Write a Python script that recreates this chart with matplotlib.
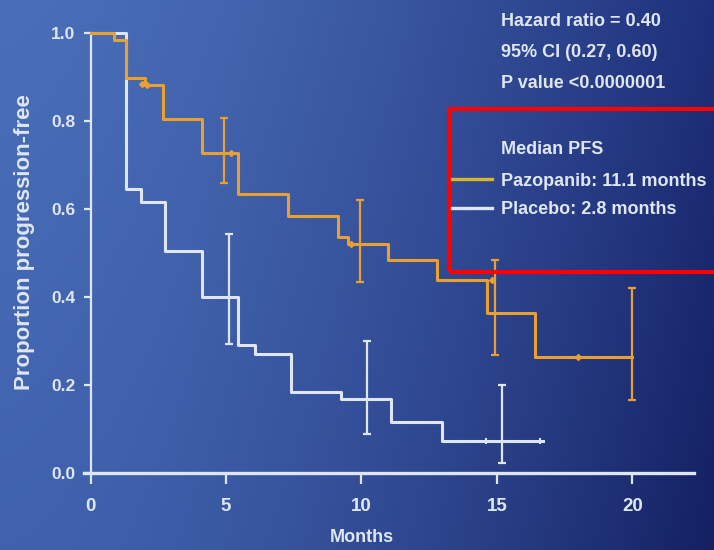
import numpy as np
import matplotlib
matplotlib.use("Agg")
import matplotlib.pyplot as plt
import matplotlib.ticker as ticker
from matplotlib.lines import Line2D
from matplotlib.patches import Rectangle

# Kaplan-Meier steps (months, proportion progression-free)
pazo_t = [0, 0.85, 1.3, 2.0, 2.66, 4.1, 5.45, 7.3, 9.13, 9.5, 10.99, 12.8, 14.62, 16.4, 20.0]
pazo_s = [1.0, 0.985, 0.898, 0.882, 0.804, 0.728, 0.634, 0.583, 0.536, 0.52, 0.484, 0.439, 0.363, 0.264, 0.264]
plac_t = [0, 1.3, 1.85, 2.75, 4.1, 5.45, 6.07, 7.4, 9.25, 11.08, 12.96, 16.7]
plac_s = [1.0, 0.645, 0.617, 0.505, 0.40, 0.29, 0.27, 0.185, 0.168, 0.117, 0.073, 0.073]

# 95% CI bars
pazo_ci_x = [4.93, 9.94, 14.93, 19.97]
pazo_ci_mid = [0.728, 0.52, 0.363, 0.264]
pazo_ci_lo = [0.659, 0.435, 0.268, 0.166]
pazo_ci_hi = [0.807, 0.62, 0.483, 0.42]
plac_ci_x = [5.1, 10.2, 15.17]
plac_ci_mid = [0.40, 0.168, 0.073]
plac_ci_lo = [0.293, 0.088, 0.023]
plac_ci_hi = [0.543, 0.30, 0.20]

# censor marks
pazo_cens_t = [1.9, 2.1, 5.2, 9.6, 14.8, 18.0]
pazo_cens_s = [0.885, 0.882, 0.728, 0.52, 0.439, 0.264]
plac_cens_t = [14.6, 16.6]
plac_cens_s = [0.073, 0.073]

x_ticks = [0, 5, 10, 15, 20]
y_ticks = [0.0, 0.2, 0.4, 0.6, 0.8, 1.0]

stats_lines = ["Hazard ratio = 0.40", "95% CI (0.27, 0.60)", "P value <0.0000001"]
legend_title = "Median PFS"
legend_labels = ["Pazopanib: 11.1 months", "Placebo: 2.8 months"]

ORANGE = "#e9a030"
LEG_YELLOW = "#d9b52a"
WHITE = "#dfe6f3"
FONT = ["Liberation Sans", "DejaVu Sans"]

W, H = 714, 550
fig = plt.figure(figsize=(W / 100, H / 100), dpi=100)


def px(x, y):
    """pixel (top-left origin) -> figure fraction"""
    return x / W, 1 - y / H


# background gradient
bg = fig.add_axes([0, 0, 1, 1])
u = np.linspace(0, 1, 300)[None, :]
v = np.linspace(0, 1, 230)[:, None]
uu = u ** 1.6
tl = np.array([74, 110, 184]); tr = np.array([30, 48, 122])
bl = np.array([64, 98, 174]); br = np.array([20, 32, 98])
img = ((1 - uu) * (1 - v))[..., None] * tl + (uu * (1 - v))[..., None] * tr \
    + ((1 - uu) * v)[..., None] * bl + (uu * v)[..., None] * br
bg.imshow(img / 255.0, aspect="auto", extent=[0, 1, 0, 1], interpolation="bilinear")
bg.set_axis_off()

x0, x1 = 84, 694
y_top, y_bot = 33, 473
ax = fig.add_axes([x0 / W, 1 - y_bot / H, (x1 - x0) / W, (y_bot - y_top) / H])
ax.patch.set_alpha(0)
ax.set_xlim(-0.24, 22.27)
ax.set_ylim(0, 1)

ax.step(plac_t, plac_s, where="post", color=WHITE, lw=2.2, clip_on=False, zorder=3)
ax.step(pazo_t, pazo_s, where="post", color=ORANGE, lw=2.2, clip_on=False, zorder=4)

ax.errorbar(pazo_ci_x, pazo_ci_mid,
            yerr=[np.subtract(pazo_ci_mid, pazo_ci_lo), np.subtract(pazo_ci_hi, pazo_ci_mid)],
            fmt="none", ecolor=ORANGE, elinewidth=1.6, capsize=3, capthick=1.6, zorder=4)
ax.errorbar(plac_ci_x, plac_ci_mid,
            yerr=[np.subtract(plac_ci_mid, plac_ci_lo), np.subtract(plac_ci_hi, plac_ci_mid)],
            fmt="none", ecolor=WHITE, elinewidth=1.6, capsize=3, capthick=1.6, zorder=3)
ax.plot(pazo_cens_t, pazo_cens_s, ls="none", marker="D", ms=3, color=ORANGE, zorder=5)
ax.plot(plac_cens_t, plac_cens_s, ls="none", marker="|", ms=5, mew=1.5, color=WHITE, zorder=5)

for side in ("top", "right"):
    ax.spines[side].set_visible(False)
ax.spines["left"].set_position(("data", 0))
ax.spines["left"].set_color(WHITE)
ax.spines["left"].set_linewidth(1.6)
ax.spines["bottom"].set_color(WHITE)
ax.spines["bottom"].set_linewidth(2.4)

ax.set_xticks(x_ticks)
ax.set_yticks(y_ticks)
ax.yaxis.set_major_formatter(ticker.FormatStrFormatter("%.1f"))
ax.tick_params(axis="y", colors=WHITE, length=5, width=1.6, pad=6, labelsize=12.5)
ax.tick_params(axis="x", colors=WHITE, length=8, width=1.6, pad=10, labelsize=13.5)
for lab in ax.get_xticklabels() + ax.get_yticklabels():
    lab.set_family(FONT)
    lab.set_fontweight("bold")

fig.text(*px(362, 538), "Months", color=WHITE, fontsize=13, fontweight="bold",
         family=FONT, ha="center", va="center")
fig.text(*px(25, 242), "Proportion progression-free", color=WHITE, fontsize=16,
         fontweight="bold", family=FONT, rotation=90, ha="center", va="center")

for i, s in enumerate(stats_lines):
    fig.text(*px(501, 22 + 30.5 * i), s, color=WHITE, fontsize=13, fontweight="bold",
             family=FONT, ha="left", va="center")

fig.text(*px(501, 149), legend_title, color=WHITE, fontsize=13, fontweight="bold",
         family=FONT, ha="left", va="center")
for i, (s, c) in enumerate(zip(legend_labels, [LEG_YELLOW, WHITE])):
    yy = 181 + 29 * i
    fig.text(*px(501, yy), s, color=WHITE, fontsize=13, fontweight="bold",
             family=FONT, ha="left", va="center")
    xa, ya = px(452, yy - 2)
    xb, _ = px(492, yy - 2)
    fig.add_artist(Line2D([xa, xb], [ya, ya], color=c, lw=2.4, transform=fig.transFigure))

# red highlight box (right edge runs off the slide)
rx, ry = px(449, 272)
fig.add_artist(Rectangle((rx, ry), (730 - 449) / W, (272 - 109) / H, fill=False,
                         edgecolor="#ff0000", lw=3, transform=fig.transFigure, clip_on=False))

fig.savefig("out.png", dpi=100)
